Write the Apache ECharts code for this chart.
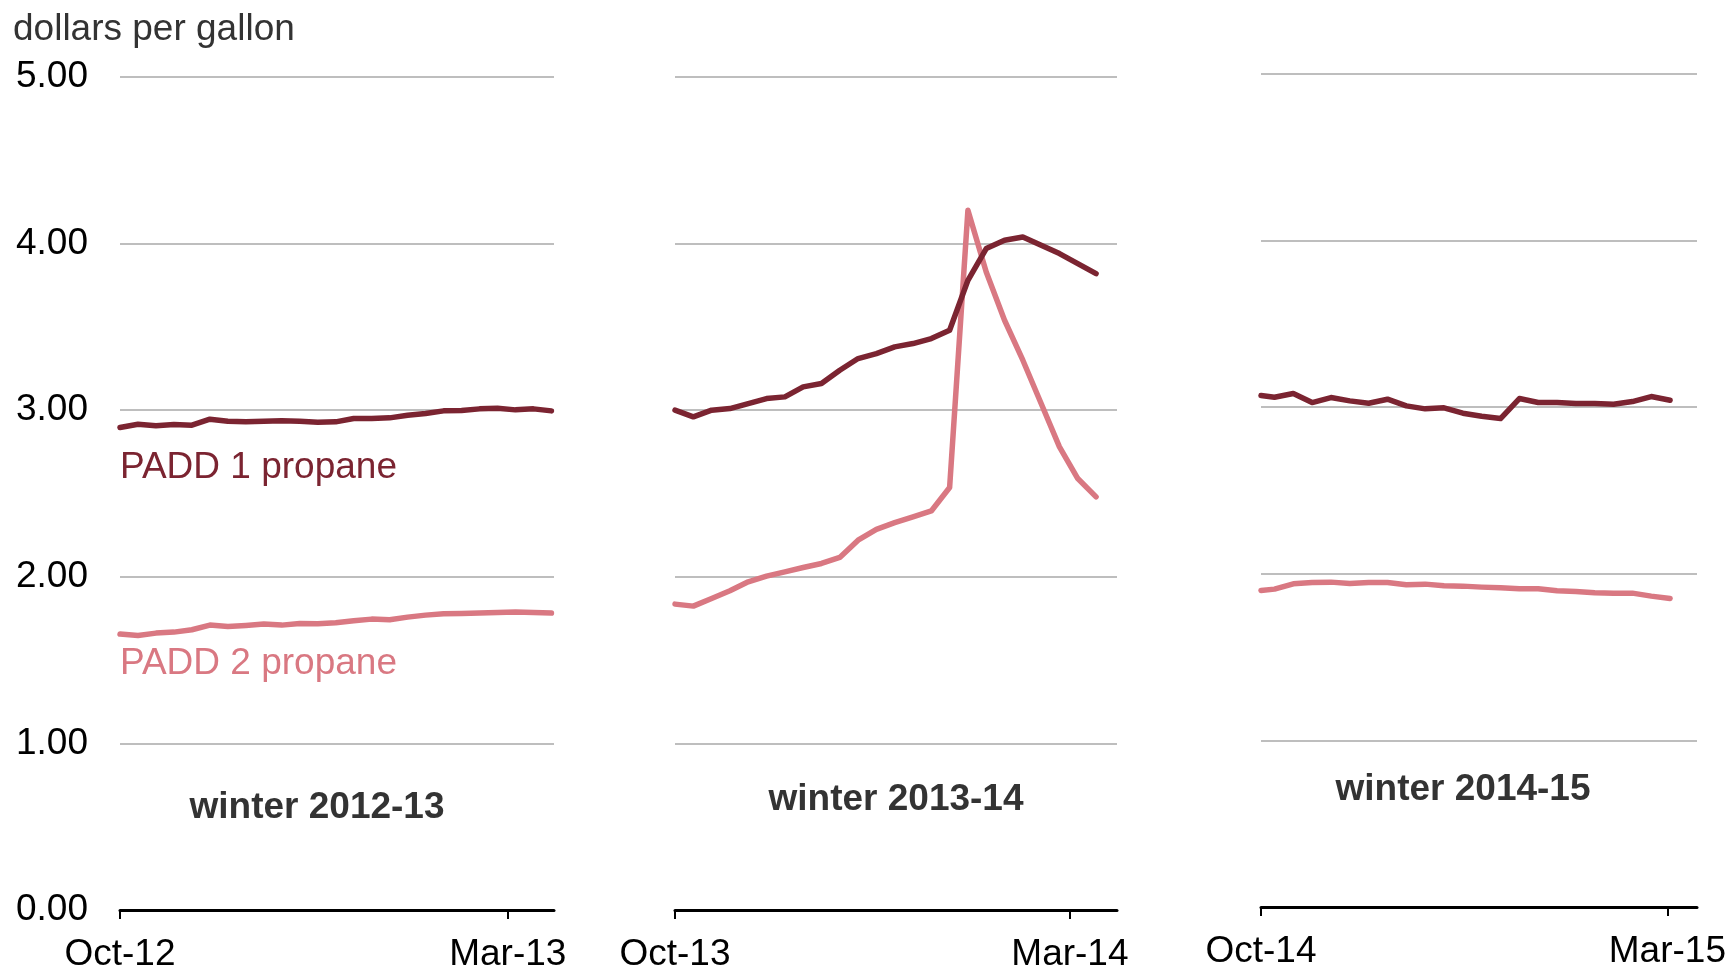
<!DOCTYPE html>
<html>
<head>
<meta charset="utf-8">
<title>Propane prices by winter</title>
<script src="https://cdn.jsdelivr.net/npm/echarts@6/dist/echarts.min.js"></script>
<style>
  html, body { margin: 0; padding: 0; background: #fff; }
  #chart { width: 1730px; height: 969px; }
</style>
</head>
<body>
<div id="chart"></div>
<script>
// weekly dates per winter
var dates1213 = ['2012-10-01', '2012-10-08', '2012-10-15', '2012-10-22', '2012-10-29', '2012-11-05', '2012-11-12',
  '2012-11-19', '2012-11-26', '2012-12-03', '2012-12-10', '2012-12-17', '2012-12-24', '2012-12-31', '2013-01-07',
  '2013-01-14', '2013-01-21', '2013-01-28', '2013-02-04', '2013-02-11', '2013-02-18', '2013-02-25', '2013-03-04',
  '2013-03-11', '2013-03-18']
var dates1314 = ['2013-10-01', '2013-10-08', '2013-10-15', '2013-10-22', '2013-10-29', '2013-11-05', '2013-11-12',
  '2013-11-19', '2013-11-26', '2013-12-03', '2013-12-10', '2013-12-17', '2013-12-24', '2013-12-31', '2014-01-07',
  '2014-01-14', '2014-01-21', '2014-01-28', '2014-02-04', '2014-02-11', '2014-02-18', '2014-02-25', '2014-03-04',
  '2014-03-11']
var dates1415 = ['2014-10-01', '2014-10-06', '2014-10-13', '2014-10-20', '2014-10-27', '2014-11-03', '2014-11-10',
  '2014-11-17', '2014-11-24', '2014-12-01', '2014-12-08', '2014-12-15', '2014-12-22', '2014-12-29', '2015-01-05',
  '2015-01-12', '2015-01-19', '2015-01-26', '2015-02-02', '2015-02-09', '2015-02-16', '2015-02-23', '2015-03-02']

// PADD 1 propane (dollars per gallon)
var padd1_1213 = [2.896, 2.916, 2.906, 2.914, 2.91, 2.946, 2.934, 2.93, 2.934, 2.936, 2.934, 2.928, 2.93,
  2.95, 2.95, 2.954, 2.97, 2.98, 2.996, 2.998, 3.008, 3.012, 3.002, 3.008, 2.996]
var padd1_1314 = [3.00, 2.96, 3.00, 3.01, 3.04, 3.07, 3.08, 3.14, 3.16, 3.24, 3.31, 3.34, 3.38, 3.40,
  3.43, 3.48, 3.78, 3.97, 4.02, 4.04, 3.99, 3.94, 3.88, 3.82]
var padd1_1415 = [3.07, 3.06, 3.082, 3.028, 3.058, 3.038, 3.024, 3.048, 3.008, 2.99, 2.996, 2.964, 2.946,
  2.932, 3.052, 3.028, 3.028, 3.022, 3.022, 3.018, 3.034, 3.064, 3.042]

// PADD 2 propane
var padd2_1213 = [1.656, 1.648, 1.662, 1.668, 1.682, 1.71, 1.702, 1.708, 1.716, 1.71, 1.72, 1.718, 1.724,
  1.736, 1.746, 1.742, 1.758, 1.77, 1.778, 1.78, 1.782, 1.786, 1.788, 1.786, 1.782]
var padd2_1314 = [1.836, 1.824, 1.87, 1.916, 1.97, 2.004, 2.03, 2.056, 2.08, 2.116, 2.22, 2.285, 2.325,
  2.36, 2.395, 2.536, 4.20, 3.83, 3.54, 3.30, 3.04, 2.78, 2.59, 2.48]
var padd2_1415 = [1.90, 1.908, 1.94, 1.948, 1.95, 1.942, 1.948, 1.948, 1.934, 1.938, 1.928, 1.926, 1.92,
  1.916, 1.91, 1.91, 1.898, 1.894, 1.886, 1.884, 1.884, 1.866, 1.852]

// axis start / end and the two labelled ticks of each panel
var axisEnds = [['2012-10-01', '2013-03-19'], ['2013-10-01', '2014-03-19'], ['2014-10-01', '2015-03-12']]
var tickDates = [['2012-10-01', '2013-03-01'], ['2013-10-01', '2014-03-01'], ['2014-10-01', '2015-03-01']]
var tickLabels = [['Oct-12', 'Mar-13'], ['Oct-13', 'Mar-14'], ['Oct-14', 'Mar-15']]
var panelTitles = ['winter 2012-13', 'winter 2013-14', 'winter 2014-15']

var FONT = '"Liberation Sans", Arial, sans-serif'
var DARK = '#7b2431'
var LIGHT = '#d97882'
var DAY = 86400000

// days since the start of the panel's axis
function dayOf(s, start) {
  return Math.round((Date.parse(s) - Date.parse(start)) / DAY)
}
function pairs(ds, vs, start) {
  return ds.map(function (d, i) { return [dayOf(d, start), vs[i]] })
}

// grid boxes (px), no auto shrinking for labels
var grids = [
  { left: 120, top: 77, width: 434, height: 833, outerBoundsMode: 'none' },
  { left: 675, top: 77, width: 442, height: 833, outerBoundsMode: 'none' },
  { left: 1261, top: 74, width: 436, height: 833, outerBoundsMode: 'none' }
]

var xAxes = [], yAxes = []
for (var i = 0; i < 3; i++) {
  (function (i) {
    var start = axisEnds[i][0]
    var ticks = tickDates[i].map(function (d) { return dayOf(d, start) })
    xAxes.push({
      type: 'value',
      gridIndex: i,
      min: 0,
      max: dayOf(axisEnds[i][1], start),
      axisLine: { show: true, onZero: false, lineStyle: { color: '#000', width: 3 } },
      axisTick: { show: true, customValues: ticks, length: 9, lineStyle: { color: '#000', width: 2 } },
      axisLabel: {
        customValues: ticks,
        margin: 26,
        fontSize: 37,
        fontFamily: FONT,
        color: '#000',
        formatter: function (v) {
          var k = ticks.indexOf(v)
          return k < 0 ? '' : tickLabels[i][k]
        }
      },
      splitLine: { show: false }
    })
    yAxes.push({
      type: 'value',
      gridIndex: i,
      min: 0,
      max: 5,
      interval: 1,
      axisLine: { show: false },
      axisTick: { show: false },
      axisLabel: {
        show: i === 0,
        margin: 32,
        padding: [8, 0, 0, 0],
        fontSize: 37,
        fontFamily: FONT,
        color: '#000',
        formatter: function (v) { return v.toFixed(2) }
      },
      splitLine: { lineStyle: { color: '#a8a8a8', width: 1.5 } }
    })
  })(i)
}

function lineSeries(idx, data, color) {
  return {
    type: 'line',
    xAxisIndex: idx,
    yAxisIndex: idx,
    data: data,
    showSymbol: false,
    symbol: 'none',
    silent: true,
    lineStyle: { color: color, width: 5.5, cap: 'round', join: 'round' }
  }
}

var series = [
  lineSeries(0, pairs(dates1213, padd2_1213, axisEnds[0][0]), LIGHT),
  lineSeries(0, pairs(dates1213, padd1_1213, axisEnds[0][0]), DARK),
  lineSeries(1, pairs(dates1314, padd2_1314, axisEnds[1][0]), LIGHT),
  lineSeries(1, pairs(dates1314, padd1_1314, axisEnds[1][0]), DARK),
  lineSeries(2, pairs(dates1415, padd2_1415, axisEnds[2][0]), LIGHT),
  lineSeries(2, pairs(dates1415, padd1_1415, axisEnds[2][0]), DARK)
]

// panel captions, unit label, series labels
var titlePos = [[317, 808], [896, 800], [1463, 790]]
var graphics = [
  { type: 'text', left: 13, top: 11, style: { text: 'dollars per gallon', font: '37px ' + FONT, fill: '#333' } },
  { type: 'text', left: 120, top: 449, style: { text: 'PADD 1 propane', font: '37px ' + FONT, fill: DARK } },
  { type: 'text', left: 120, top: 645, style: { text: 'PADD 2 propane', font: '37px ' + FONT, fill: LIGHT } }
]
panelTitles.forEach(function (name, i) {
  graphics.push({
    type: 'text',
    x: titlePos[i][0],
    y: titlePos[i][1],
    style: {
      text: name,
      font: 'bold 37px ' + FONT,
      fill: '#333',
      align: 'center',
      verticalAlign: 'middle'
    }
  })
})

var chart = echarts.init(document.getElementById('chart'))
chart.setOption({
  animation: false,
  backgroundColor: '#fff',
  grid: grids,
  xAxis: xAxes,
  yAxis: yAxes,
  series: series,
  graphic: graphics
})
</script>
</body>
</html>
